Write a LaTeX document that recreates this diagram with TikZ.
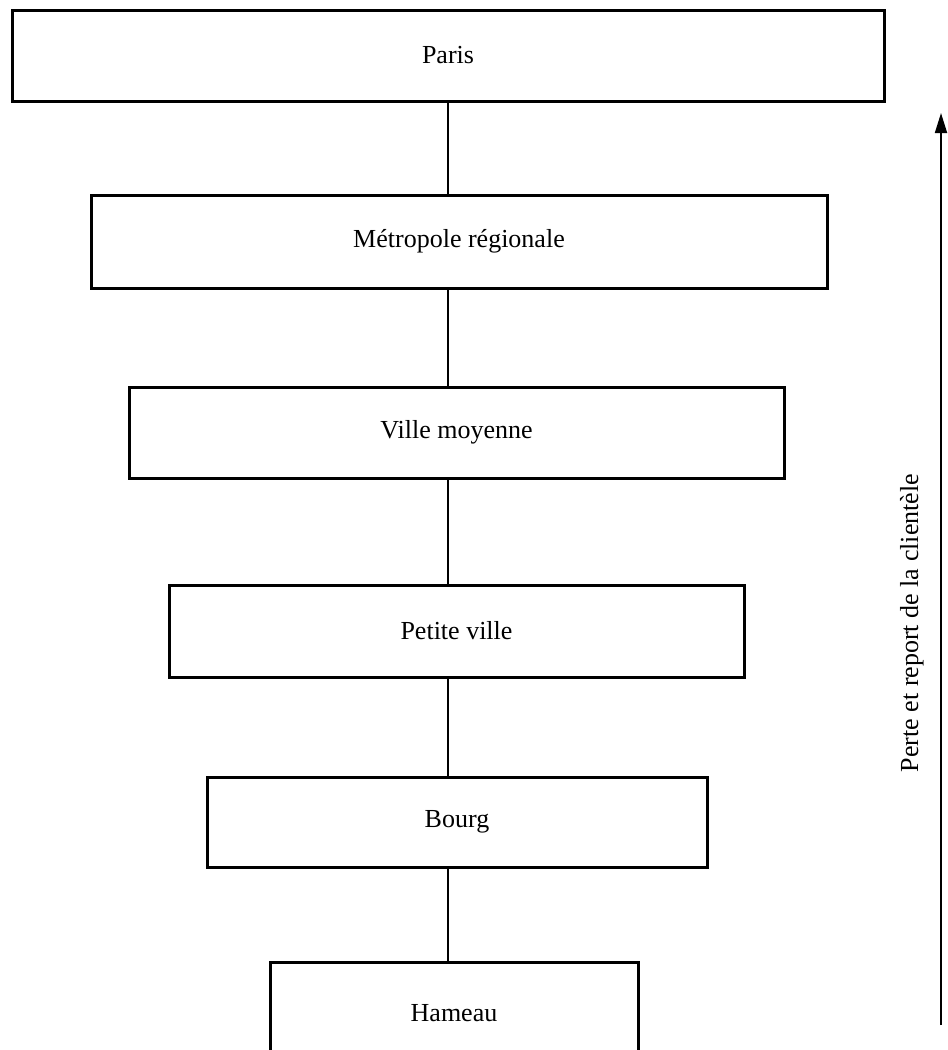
\documentclass[tikz,border=0pt]{standalone}
\usepackage{fontspec}
\setmainfont{Liberation Serif}
\usetikzlibrary{arrows.meta}
\tikzset{
  citybox/.style={draw, line width=3pt, rectangle, inner sep=0pt, font=\fontsize{26}{30}\selectfont},
  link/.style={line width=2.5pt},
  trend/.style={line width=1.8pt, -{Triangle[length=20pt,width=12pt]}},
}
\begin{document}
\begin{tikzpicture}[x=1pt,y=-1pt]
\clip (0,0) rectangle (948,1050);
\coordinate (spine) at (448,0);
\node[citybox, minimum width=872pt, minimum height=91pt] (paris) at (448,55.5) {Paris};
\node[citybox, minimum width=736pt, minimum height=93pt] (metro) at (459,241.5) {Métropole régionale};
\node[citybox, minimum width=655pt, minimum height=91pt] (ville) at (456.5,432.5) {Ville moyenne};
\node[citybox, minimum width=575pt, minimum height=92pt] (petite) at (456.5,631) {Petite ville};
\node[citybox, minimum width=500pt, minimum height=90pt] (bourg) at (457,822) {Bourg};
\node[citybox, minimum width=368pt, minimum height=102pt] (hameau) at (454,1013) {Hameau};
\draw[link] (paris.south -| spine) -- (metro.north -| spine);
\draw[link] (metro.south -| spine) -- (ville.north -| spine);
\draw[link] (ville.south -| spine) -- (petite.north -| spine);
\draw[link] (petite.south -| spine) -- (bourg.north -| spine);
\draw[link] (bourg.south -| spine) -- (hameau.north -| spine);
\coordinate (abot) at (941,1025);
\coordinate (atop) at (941,113);
\draw[trend] (abot) -- (atop);
\node[rotate=90, anchor=base, inner sep=0pt, font=\fontsize{26}{30}\selectfont] (lbl) at (918,623) {Perte et report de la clientèle};
\end{tikzpicture}
\end{document}
